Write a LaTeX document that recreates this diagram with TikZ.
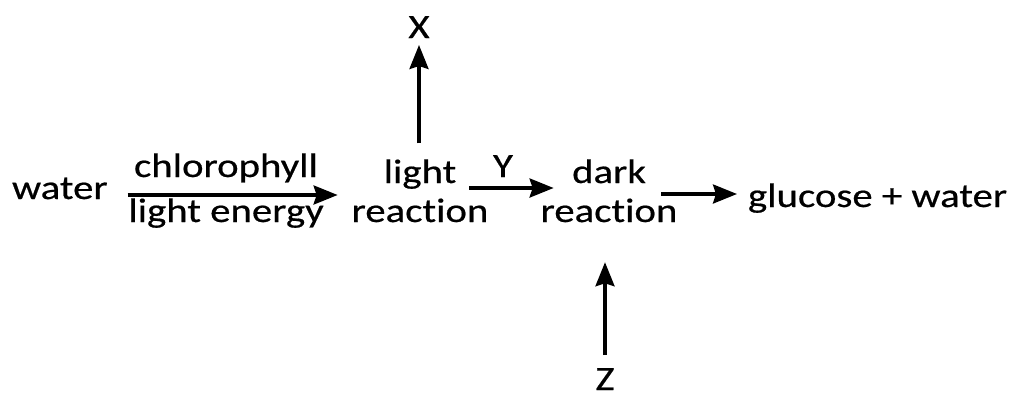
\documentclass[tikz,border=0pt]{standalone}
\usepackage{fontspec}
\setmainfont{Carlito}[Ligatures={NoCommon},FakeStretch=1.2,FakeBold=0.5]
\usetikzlibrary{arrows.meta,calc}
\begin{document}
\begin{tikzpicture}[x=1pt,y=-1pt,
  txt/.style={inner sep=0pt,outer sep=0pt,anchor=base,font=\fontsize{34}{39}\selectfont,align=center},
  arr/.style={line width=3.3pt,-{Stealth[length=24pt,width=19pt,inset=3pt]}}]
\useasboundingbox (0,0) rectangle (1027,399);
\node[txt,anchor=base west] (water) at (12,199) {water};
\node[txt] (chl) at (226,177) {chlorophyll};
\node[txt] (le) at (226,222) {light energy};
\node[txt] (lr) at (420,222) {light\\reac\kern0pt tion};
\node[txt] (dr) at (609,222) {dark\\reac\kern0pt tion};
\node[txt,anchor=base west] (gl) at (748,207) {glucose + water};
\node[txt] (X) at (419,38) {X};
\node[txt] (Z) at (605,390) {Z};
\node[txt] (Y) at (503,177) {Y};
% water -> light reaction
\draw[arr] ($(water.base east)+(20,-4)$) coordinate (w1) -- ($(lr.west |- w1)+(-14,0)$);
% light reaction -> X
\draw[arr] ($(lr.north -| X.south)+(0,-16)$) -- ($(X.south)+(0,7)$);
% light reaction -> dark reaction
\draw[arr] ($(lr.base east)+(-19,-34)$) coordinate (y1) -- ($(dr.base west |- y1)+(13,0)$);
% dark reaction -> glucose + water
\draw[arr] ($(dr.base east)+(-16,-28)$) coordinate (g1) -- ($(gl.base west |- g1)+(-11,0)$);
% Z -> dark reaction
\draw[arr] ($(Z.north)+(0,-13)$) coordinate (z1) -- ($(dr.south -| z1)+(0,40)$);
\end{tikzpicture}
\end{document}
